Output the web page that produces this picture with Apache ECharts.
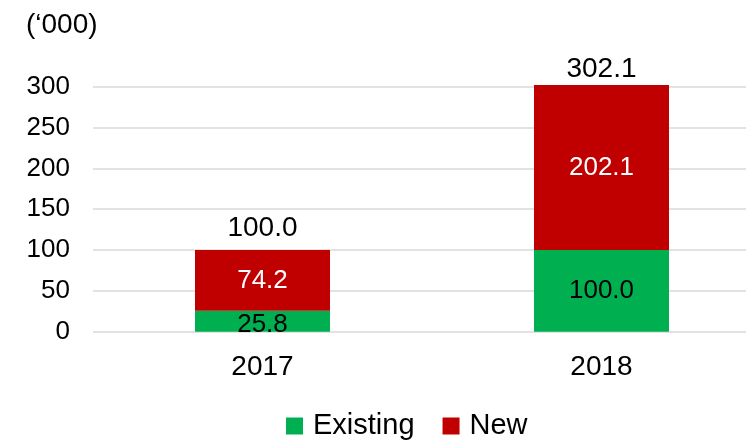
<!DOCTYPE html>
<html>
<head>
<meta charset="utf-8">
<script src="https://cdn.jsdelivr.net/npm/echarts@6/dist/echarts.min.js"></script>
<style>
  html, body { margin: 0; padding: 0; background: #fff; }
  #chart { width: 746px; height: 441px; }
</style>
</head>
<body>
<div id="chart"></div>
<script>
const years = ['2017', '2018'];
const existing = [25.8, 100.0];
const newOnes = [74.2, 202.1];
const totals = [100.0, 302.1];
const yTicks = [0, 50, 100, 150, 200, 250, 300];

const font = 'Liberation Sans, Arial, sans-serif';
const chart = echarts.init(document.getElementById('chart'));

// label above the bar; the tallest one sits a bit closer, as in the original
const totalGap = [8, 2];

const option = {
  animation: false,
  title: {
    text: '(\u2018000)',
    left: 26,
    top: 11,
    padding: 0,
    textStyle: { fontFamily: font, fontSize: 28, fontWeight: 'normal', color: '#000' }
  },
  grid: { left: 93, top: 86.7, width: 678, height: 245, containLabel: false, outerBoundsMode: 'none' },
  legend: {
    data: ['Existing', 'New'],
    top: 410,
    left: 286,
    padding: 0,
    icon: 'rect',
    itemWidth: 17,
    itemHeight: 17,
    itemGap: 28,
    textStyle: { fontFamily: font, fontSize: 29, color: '#000', lineHeight: 32, padding: [0, 0, 0, 5] }
  },
  xAxis: {
    type: 'category',
    data: years,
    axisLine: { show: false },
    axisTick: { show: false },
    axisLabel: { margin: 22, fontFamily: font, fontSize: 28, color: '#000' }
  },
  yAxis: {
    type: 'value',
    min: yTicks[0],
    max: yTicks[yTicks.length - 1],
    interval: 50,
    axisLine: { show: false },
    axisTick: { show: false },
    splitLine: { lineStyle: { color: '#d9d9d9', width: 1.5 } },
    axisLabel: { margin: 23, fontFamily: font, fontSize: 26, color: '#000' }
  },
  series: [
    {
      name: 'Total',
      type: 'bar',
      barWidth: 135,
      barGap: '-100%',
      clip: false,
      silent: true,
      z: 1,
      itemStyle: { color: 'rgba(0,0,0,0)' },
      label: {
        show: true,
        position: 'top',
        fontFamily: font,
        fontSize: 28,
        color: '#000',
        formatter: p => p.value.toFixed(1)
      },
      data: totals.map((v, i) => ({ value: v, label: { distance: totalGap[i] } }))
    },
    {
      name: 'Existing',
      type: 'bar',
      stack: 'total',
      barWidth: 135,
      clip: false,
      z: 2,
      itemStyle: { color: '#00b050' },
      label: {
        show: true,
        position: 'inside',
        fontFamily: font,
        fontSize: 26,
        color: '#000',
        formatter: p => p.value.toFixed(1)
      },
      // the thin 2017 segment's label hangs a little below its centre
      data: existing.map((v, i) => (i === 0 ? { value: v, label: { offset: [0, 4] } } : v))
    },
    {
      name: 'New',
      type: 'bar',
      stack: 'total',
      barWidth: 135,
      clip: false,
      z: 2,
      itemStyle: { color: '#c00000' },
      label: {
        show: true,
        position: 'inside',
        fontFamily: font,
        fontSize: 26,
        color: '#fff',
        formatter: p => p.value.toFixed(1)
      },
      data: newOnes
    }
  ]
};

chart.setOption(option);
</script>
</body>
</html>
